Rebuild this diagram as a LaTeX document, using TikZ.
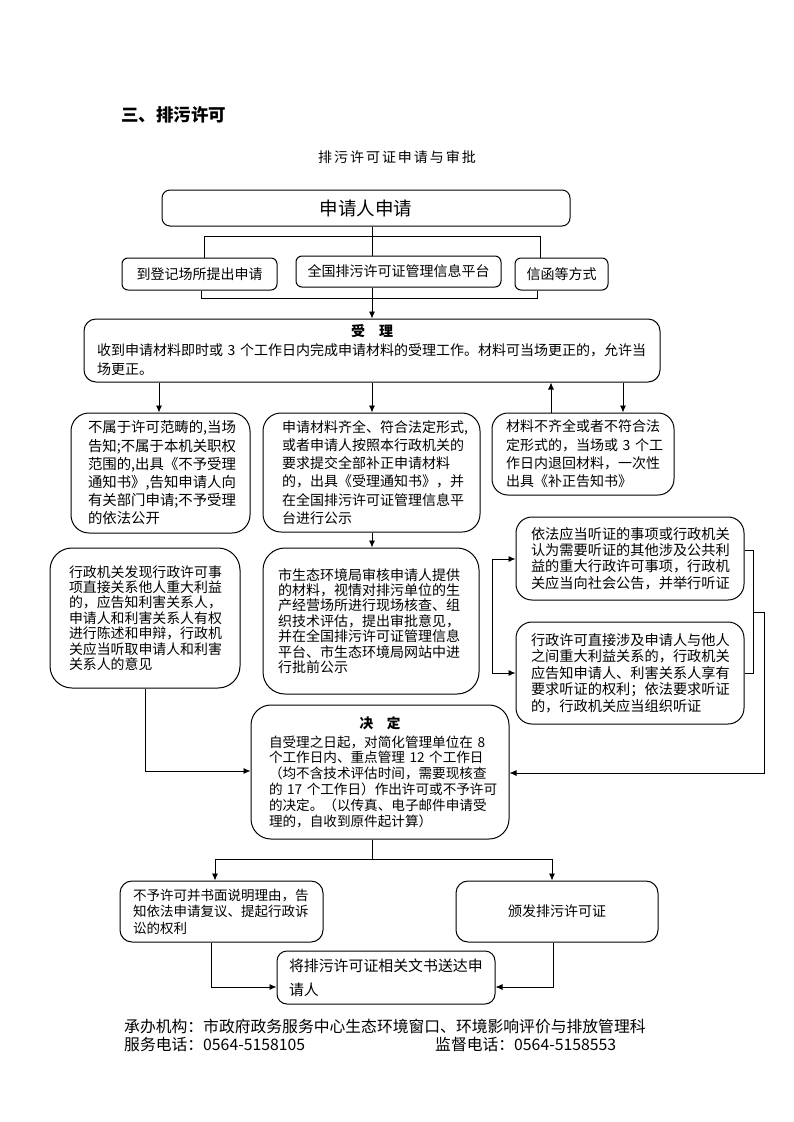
\documentclass[tikz,border=0pt]{standalone}
\usepackage{fontspec}
\setmainfont{Noto Sans CJK SC}
\usetikzlibrary{arrows.meta}
\tikzset{
  box/.style={draw, line width=1pt, rounded corners=#1, inner sep=0pt},
  box/.default=10pt,
  conn/.style={line width=0.9pt},
  arr/.style={conn, -{Latex[length=7pt,width=6pt]}},
  darr/.style={conn, {Latex[length=7pt,width=6pt]}-{Latex[length=7pt,width=6pt]}},
  txt/.style={align=left, text width=#1},
}
\begin{document}
\begin{tikzpicture}[x=1pt,y=-1pt]
\useasboundingbox (0,0) rectangle (793,1122);

% headings
\node[anchor=west, inner sep=0pt, font=\fontsize{17.5}{20}\selectfont\bfseries] (ttl) at (121,115) {三、排污许可};
\node[inner sep=0pt, font=\fontsize{14}{16}\selectfont\addfontfeature{LetterSpace=14}] (sub) at (397,157) {排污许可证申请与审批};

% top
\node[box=8pt, minimum width=408pt, minimum height=36pt, font=\fontsize{18.5}{22}\selectfont] (app) at (366,208) {申请人申请};
\node[box=6pt, minimum width=155pt, minimum height=32pt, font=\fontsize{14}{16}\selectfont] (b1) at (199.5,274) {到登记场所提出申请};
\node[box=6pt, minimum width=205pt, minimum height=31pt, font=\fontsize{14}{16}\selectfont] (b2) at (398.5,271.5) {全国排污许可证管理信息平台};
\node[box=6pt, minimum width=93pt, minimum height=32pt, font=\fontsize{14}{16}\selectfont] (b3) at (561.5,274) {信函等方式};

% acceptance
\node[box=12pt, minimum width=576pt, minimum height=63pt, txt=550pt, font=\fontsize{14}{19}\selectfont] (acc) at (372,350.5)
 {\makebox[550pt]{\bfseries 受\hspace{1em}理}\\收到申请材料即时或~3~个工作日内完成申请材料的受理工作。材料可当场更正的，允许当\\场更正。};

% second row
\node[box=18pt, minimum width=179pt, minimum height=120pt, txt=145pt, font=\fontsize{14.4}{18.2}\selectfont] (nA) at (160.5,473)
 {不属于许可范畴的,当场\\告知;不属于本机关职权\\范围的,出具《不予受理\\通知书》,告知申请人向\\有关部门申请;不予受理\\的依法公开};
\node[box=18pt, minimum width=217pt, minimum height=119pt, txt=179pt, font=\fontsize{14}{18.2}\selectfont] (nB) at (371.5,472.5)
 {申请材料齐全、符合法定形式,\\或者申请人按照本行政机关的\\要求提交全部补正申请材料\\的，出具《受理通知书》，并\\在全国排污许可证管理信息平\\台进行公示};
\node[box=16pt, minimum width=182pt, minimum height=82pt, txt=154pt, font=\fontsize{14}{18.3}\selectfont] (nC) at (583,454)
 {材料不齐全或者不符合法\\定形式的，当场或~3~个工\\作日内退回材料，一次性\\出具《补正告知书》};

% third row
\node[box=22pt, minimum width=190pt, minimum height=140pt, txt=152pt, font=\fontsize{13.9}{15.4}\selectfont] (nD) at (145,618)
 {行政机关发现行政许可事\\项直接关系他人重大利益\\的，应告知利害关系人，\\申请人和利害关系人有权\\进行陈述和申辩，行政机\\关应当听取申请人和利害\\关系人的意见};
\node[box=22pt, minimum width=216pt, minimum height=146pt, txt=186pt, font=\fontsize{14}{15.4}\selectfont] (nE) at (371,621)
 {市生态环境局审核申请人提供\\的材料，视情对排污单位的生\\产经营场所进行现场核查、组\\织技术评估，提出审批意见，\\并在全国排污许可证管理信息\\平台、市生态环境局网站中进\\行批前公示};
\node[box=16pt, minimum width=228pt, minimum height=83pt, txt=198pt, font=\fontsize{14.2}{16.3}\selectfont] (nF) at (630,558.5)
 {依法应当听证的事项或行政机关\\认为需要听证的其他涉及公共利\\益的重大行政许可事项，行政机\\关应当向社会公告，并举行听证};
\node[box=16pt, minimum width=228pt, minimum height=102pt, txt=198pt, font=\fontsize{14.2}{16.5}\selectfont] (nG) at (630,673)
 {行政许可直接涉及申请人与他人\\之间重大利益关系的，行政机关\\应告知申请人、利害关系人享有\\要求听证的权利；依法要求听证\\的，行政机关应当组织听证};

% decision
\node[box=20pt, minimum width=258pt, minimum height=134pt, txt=222pt, font=\fontsize{13.6}{15.8}\selectfont] (dec) at (380,772)
 {\makebox[222pt]{\bfseries 决\hspace{1em}定}\\[3pt]自受理之日起，对简化管理单位在~8\\个工作日内、重点管理~12~个工作日\\（均不含技术评估时间，需要现核查\\的~17~个工作日）作出许可或不予许可\\的决定。（以传真、电子邮件申请受\\理的，自收到原件起计算）};

% results
\node[box=12pt, minimum width=203pt, minimum height=61pt, txt=177pt, font=\fontsize{13.5}{16.5}\selectfont] (nH) at (221.5,911.5)
 {不予许可并书面说明理由，告\\知依法申请复议、提起行政诉\\讼的权利};
\node[box=12pt, minimum width=202pt, minimum height=61pt, font=\fontsize{14}{16}\selectfont] (nI) at (557,911.5) {颁发排污许可证};
\node[box=10pt, minimum width=218pt, minimum height=53pt, txt=194pt, font=\fontsize{14.9}{24}\selectfont] (nJ) at (386,977.5)
 {将排污许可证相关文书送达申\\请人};

% footer
\node[anchor=west, inner sep=0pt, font=\fontsize{15.8}{18}\selectfont] (f1) at (124,1026) {承办机构：市政府政务服务中心生态环境窗口、环境影响评价与排放管理科};
\node[anchor=west, inner sep=0pt, font=\fontsize{15.8}{18}\selectfont] (f2) at (124,1044) {服务电话：0564-5158105};
\node[anchor=west, inner sep=0pt, font=\fontsize{15.8}{18}\selectfont] (f3) at (435,1044) {监督电话：0564-5158553};

% connectors
\coordinate (cx) at (372,0);
\coordinate (busL) at (204,236); \coordinate (busR) at (540,236);
\draw[conn] (app.south -| cx) -- (b2.north -| cx);
\draw[conn] (b1.north -| busL) -- (busL) -- (busR) -- (b3.north -| busR);
\coordinate (lbL) at (201,298); \coordinate (lbR) at (537,298);
\draw[conn] (b1.south -| lbL) -- (lbL) -- (lbR) -- (b3.south -| lbR);
\draw[arr] (b2.south -| cx) -- (acc.north -| cx);

\coordinate (xa) at (159,0);
\coordinate (xc1) at (551,0); \coordinate (xc2) at (623,0);
\draw[arr] (acc.south -| xa) -- (nA.north -| xa);
\draw[arr] (acc.south -| cx) -- (nB.north -| cx);
\draw[arr] (nC.north -| xc1) -- (acc.south -| xc1);
\draw[arr] (acc.south -| xc2) -- (nC.north -| xc2);
\draw[arr] (nB.south -| cx) -- (nE.north -| cx);

\coordinate (lb1) at (492,559); \coordinate (lb2) at (492,673);
\draw[darr] (nF.west |- lb1) -- (lb1) -- (lb2) -- (nG.west |- lb2);
\coordinate (rb1) at (753,550); \coordinate (rb2) at (753,673);
\coordinate (rbm) at (753,612); \coordinate (rr) at (764,612); \coordinate (rr2) at (764,773);
\draw[conn] (nF.east |- rb1) -- (rb1) -- (rb2) -- (nG.east |- rb2);
\draw[arr] (rbm) -- (rr) -- (rr2) -- (dec.east |- rr2);

\coordinate (dl) at (145,771);
\draw[arr] (nD.south -| dl) -- (dl) -- (dec.west |- dl);

\coordinate (dbc) at (372,859); \coordinate (dbL) at (215,859); \coordinate (dbR) at (552,859);
\draw[conn] (dec.south -| cx) -- (dbc);
\draw[arr] (dbc) -- (dbL) -- (nH.north -| dbL);
\draw[arr] (dbc) -- (dbR) -- (nI.north -| dbR);

\coordinate (hj) at (211,987); \coordinate (ij) at (553,987);
\draw[arr] (nH.south -| hj) -- (hj) -- (nJ.west |- hj);
\draw[arr] (nI.south -| ij) -- (ij) -- (nJ.east |- ij);
\end{tikzpicture}
\end{document}
